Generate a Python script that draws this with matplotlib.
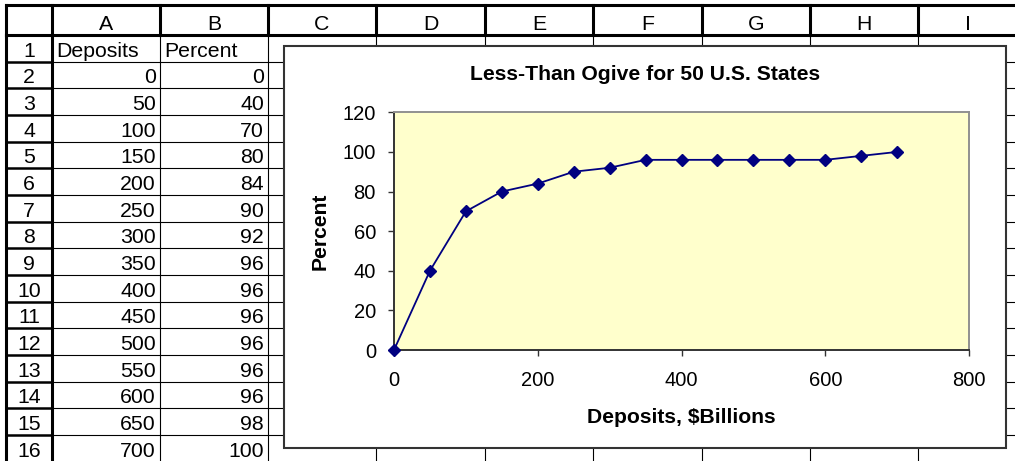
import matplotlib.pyplot as plt
from matplotlib.patches import Rectangle

plt.rcParams['font.family'] = ['Liberation Sans', 'DejaVu Sans']

# sheet data (columns A and B)
deposits = [0, 50, 100, 150, 200, 250, 300, 350, 400, 450, 500, 550, 600, 650, 700]
percent = [0, 40, 70, 80, 84, 90, 92, 96, 96, 96, 96, 96, 96, 98, 100]
col_letters = ['A', 'B', 'C', 'D', 'E', 'F', 'G', 'H', 'I']
headers = ['Deposits', 'Percent']

W, H = 1015, 461
fig = plt.figure(figsize=(W / 100, H / 100), dpi=100)

# spreadsheet grid drawn in pixel coords
bg = fig.add_axes([0, 0, 1, 1])
bg.set_xlim(0, W)
bg.set_ylim(H, 0)
bg.axis('off')

col_x = [6, 52, 160, 268, 376, 485, 593, 702, 810, 918, 1018]
top, head_bot, row_h = 5, 35, 26.67
row_y = [head_bot + k * row_h for k in range(17)]
fs = 15.3

# header row
bg.plot([col_x[0], W], [top, top], color='k', lw=2.2)
bg.plot([col_x[0], W], [head_bot, head_bot], color='k', lw=2.2)
for x in col_x[:-1]:
    bg.plot([x, x], [top, head_bot], color='k', lw=2.2)
for i, c in enumerate(col_letters):
    cx = (col_x[i + 1] + col_x[i + 2]) / 2
    bg.text(cx, head_bot - 5, c, ha='center', va='baseline', fontsize=fs)

# body grid
for y in row_y[1:]:
    bg.plot([col_x[0], col_x[1]], [y, y], color='k', lw=1.8)
    bg.plot([col_x[1], W], [y, y], color='k', lw=0.8)
bg.plot([col_x[0], col_x[0]], [head_bot, H], color='k', lw=2.2)
bg.plot([col_x[1], col_x[1]], [head_bot, H], color='k', lw=2.2)
for x in col_x[2:-1]:
    bg.plot([x, x], [head_bot, H], color='k', lw=0.8)

# row numbers and cell values
for r in range(16):
    base = row_y[r + 1] - 5
    bg.text((col_x[0] + col_x[1]) / 2, base, str(r + 1), ha='center', va='baseline', fontsize=fs)
bg.text(col_x[1] + 4, row_y[1] - 5, headers[0], ha='left', va='baseline', fontsize=fs)
bg.text(col_x[2] + 4, row_y[1] - 5, headers[1], ha='left', va='baseline', fontsize=fs)
for i in range(len(deposits)):
    base = row_y[i + 2] - 5
    bg.text(col_x[2] - 4, base, str(deposits[i]), ha='right', va='baseline', fontsize=fs)
    bg.text(col_x[3] - 4, base, str(percent[i]), ha='right', va='baseline', fontsize=fs)

# embedded chart object
bg.add_patch(Rectangle((284, 46), 1006 - 284, 448 - 46, facecolor='white',
                       edgecolor='#333333', lw=1.5, zorder=5))
bg.text(645, 80, 'Less-Than Ogive for 50 U.S. States', ha='center', va='baseline',
        fontsize=15.2, fontweight='bold', zorder=6)
bg.text(681, 423, 'Deposits, $Billions', ha='center', va='baseline',
        fontsize=15.2, fontweight='bold', zorder=6)
bg.text(320, 231, 'Percent', ha='center', va='center', rotation=90,
        fontsize=15.2, fontweight='bold', zorder=6)

ax = fig.add_axes([394 / W, 1 - 350 / H, (969 - 394) / W, (350 - 112.3) / H])
ax.set_facecolor('#FFFFCC')
ax.plot(deposits, percent, color='#000080', lw=1.3, marker='D', ms=6.5,
        clip_on=False, zorder=3)
ax.set_xlim(0, 800)
ax.set_ylim(0, 120)
ax.set_xticks(range(0, 801, 200))
ax.set_yticks(range(0, 121, 20))
ax.tick_params(labelsize=14.5, length=4, width=1, color='#333333', pad=9)
ax.tick_params(axis='x', pad=11)
for s in ['left', 'bottom']:
    ax.spines[s].set_color('#333333')
    ax.spines[s].set_linewidth(1.4)
for s in ['top', 'right']:
    ax.spines[s].set_color('#909090')
    ax.spines[s].set_linewidth(1.4)

fig.savefig('out.png', dpi=100)
